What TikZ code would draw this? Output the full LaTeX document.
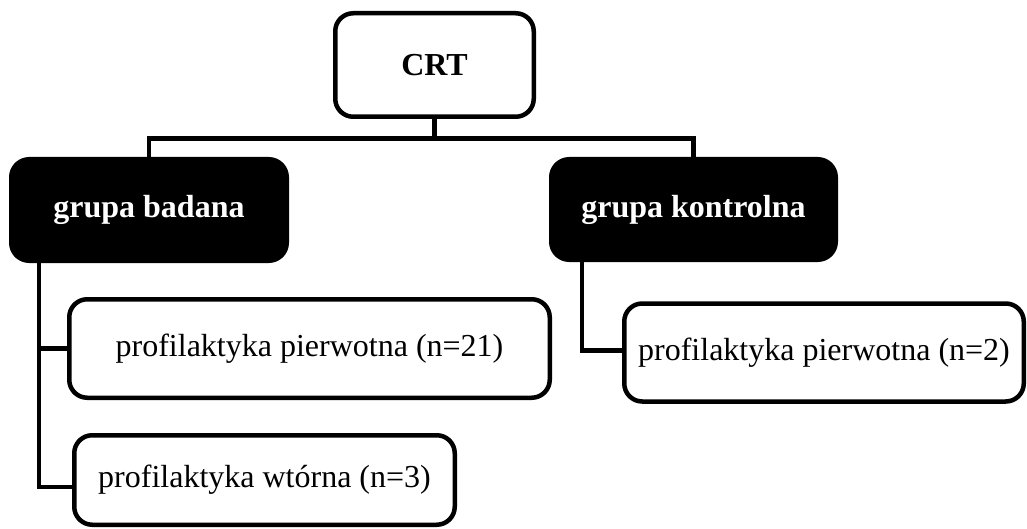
\documentclass[tikz,border=0pt]{standalone}
\usepackage{fontspec}
\setmainfont{Liberation Serif}
\begin{document}
\begin{tikzpicture}[x=1pt,y=-1pt,
  box/.style={draw=black, line width=4.5pt, rounded corners=18pt, inner sep=0pt,
    font=\fontsize{32}{38}\selectfont, align=center},
  whitebox/.style={box, fill=white, text=black},
  blackbox/.style={box, fill=black, text=white, font=\fontsize{32}{38}\selectfont\bfseries},
  conn/.style={draw=black, line width=4.5pt, line join=miter}]
\useasboundingbox (0,0) rectangle (1027,529);
\node[whitebox, minimum width=198.5pt, minimum height=103.5pt, font=\fontsize{32}{38}\selectfont\bfseries] (crt) at (434.5,65) {CRT};
\node[blackbox, minimum width=275.5pt, minimum height=101.5pt] (badana) at (149,210) {grupa badana};
\node[blackbox, minimum width=284.5pt, minimum height=100.5pt] (kontrolna) at (693.5,209.5) {grupa kontrolna};
\node[whitebox, minimum width=480.5pt, minimum height=98.5pt] (p21) at (309.5,348.5) {profilaktyka pierwotna (n=21)};
\node[whitebox, minimum width=380.5pt, minimum height=89.5pt] (wt) at (264.5,480) {profilaktyka wtórna (n=3)};
\node[whitebox, minimum width=399.5pt, minimum height=98pt] (kp) at (824,352.5) {profilaktyka pierwotna (n=2)};
\coordinate (bus) at (0,138.5);
\coordinate (trunkL) at (39,0);
\coordinate (trunkR) at (582,0);
\draw[conn] (crt.south) -- (crt.south |- bus);
\draw[conn] (badana.north) -- (badana.north |- bus) -- (kontrolna.north |- bus) -- (kontrolna.north);
\draw[conn] (badana.south -| trunkL) |- ([yshift=-7pt]wt.west);
\draw[conn] (trunkL |- p21.west) -- (p21.west);
\draw[conn] (kontrolna.south -| trunkR) |- ([yshift=2pt]kp.west);
\end{tikzpicture}
\end{document}
